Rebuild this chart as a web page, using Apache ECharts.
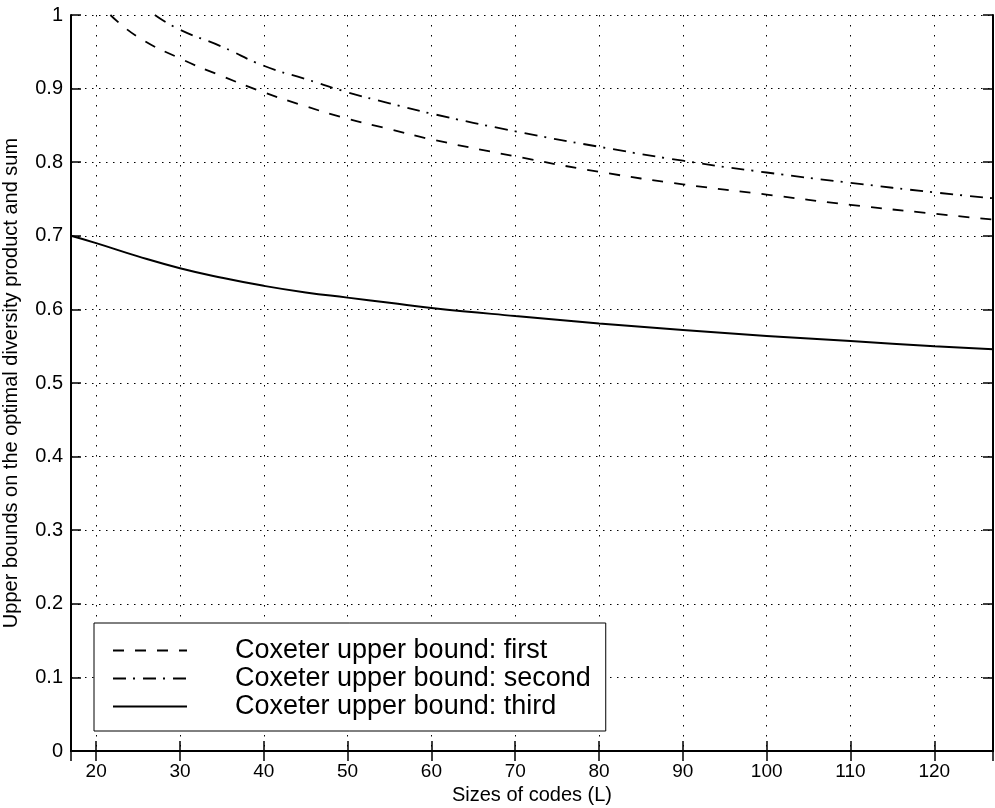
<!DOCTYPE html>
<html>
<head>
<meta charset="utf-8">
<script src="https://cdn.jsdelivr.net/npm/echarts@6/dist/echarts.min.js"></script>
<style>
  html, body { margin: 0; padding: 0; background: #fff; }
  #chart { width: 995px; height: 808px; }
</style>
</head>
<body>
<div id="chart"></div>
<script>
// values
const sizesFirst = [21.7, 25, 30, 35, 40, 45, 50, 55, 60, 70, 80, 90, 100, 110, 120, 127]
const boundFirst = [1.0, 0.970, 0.941, 0.917, 0.895, 0.876, 0.859, 0.845, 0.831, 0.808, 0.787, 0.770, 0.756, 0.742, 0.730, 0.722]

const sizesSecond = [27, 30, 35, 40, 45, 50, 55, 60, 70, 80, 90, 100, 110, 120, 127]
const boundSecond = [1.0, 0.980, 0.957, 0.931, 0.913, 0.895, 0.880, 0.866, 0.842, 0.821, 0.802, 0.786, 0.772, 0.759, 0.751]

const sizesThird = [17, 20, 25, 30, 35, 40, 45, 50, 55, 60, 70, 80, 90, 100, 110, 120, 127]
const boundThird = [0.700, 0.690, 0.672, 0.656, 0.643, 0.632, 0.623, 0.616, 0.609, 0.602, 0.591, 0.581, 0.572, 0.564, 0.557, 0.550, 0.546]

const seriesNames = ['Coxeter upper bound: first', 'Coxeter upper bound: second', 'Coxeter upper bound: third']

const pairs = (xs, ys) => xs.map((x, i) => [x, ys[i]])

const font = 'Liberation Sans, Arial, Helvetica, sans-serif'

const xTickFmt = v => (v % 10 === 0 ? String(v) : '')

let chart = echarts.init(document.getElementById('chart'), null, {renderer: 'canvas'})

const baseX = {
  type: 'value',
  min: 17,
  max: 127,
  splitNumber: 11,
  axisLine: {lineStyle: {color: '#000', width: 2}},
  axisTick: {inside: true, length: 10, lineStyle: {color: '#000', width: 1.5}}
}
const baseY = {
  type: 'value',
  min: 0,
  max: 1,
  interval: 0.1,
  axisLine: {lineStyle: {color: '#000', width: 2}},
  axisTick: {inside: true, length: 10, lineStyle: {color: '#000', width: 1.5}}
}

chart.setOption({
  backgroundColor: '#fff',
  animation: false,
  grid: {left: 71, right: 2, top: 15, bottom: 57, containLabel: false, outerBoundsMode: 'none'},
  legend: {
    orient: 'vertical',
    left: 94,
    top: 623,
    width: 510,
    padding: [14, 15, 11, 18],
    itemWidth: 74,
    itemHeight: 14,
    itemGap: 1,
    borderColor: '#000',
    borderWidth: 1,
    borderRadius: 0,
    backgroundColor: '#fff',
    itemStyle: {opacity: 0},
    data: seriesNames,
    textStyle: {color: '#000', fontSize: 27, fontFamily: font, padding: [0, 0, 0, 43]}
  },
  xAxis: [
    {
      ...baseX,
      name: 'Sizes of codes (L)',
      nameLocation: 'middle',
      nameGap: 27,
      nameTextStyle: {color: '#000', fontSize: 20, fontFamily: font},
      axisLabel: {color: '#000', fontSize: 19, fontFamily: font, margin: 11,
        formatter: xTickFmt, showMinLabel: false, showMaxLabel: false},
      splitLine: {show: true, lineStyle: {color: '#000', width: 1, type: [1.5, 8.5]}}
    },
    {
      ...baseX,
      position: 'top',
      axisLabel: {show: false},
      splitLine: {show: false}
    }
  ],
  yAxis: [
    {
      ...baseY,
      name: 'Upper bounds on the optimal diversity product and sum',
      nameLocation: 'middle',
      nameGap: 50,
      nameTextStyle: {color: '#000', fontSize: 20, fontFamily: font},
      axisLabel: {color: '#000', fontSize: 20, fontFamily: font, margin: 8,
        formatter: v => String(Math.round(v * 10) / 10)},
      splitLine: {show: true, lineStyle: {color: '#000', width: 1, type: [1.5, 5.5]}}
    },
    {
      ...baseY,
      position: 'right',
      axisLabel: {show: false},
      splitLine: {show: false}
    }
  ],
  series: [
    {
      name: seriesNames[0],
      type: 'line',
      data: pairs(sizesFirst, boundFirst),
      smooth: 0.5,
      symbol: 'none',
      lineStyle: {color: '#000', width: 1.8, type: [11, 11]},
      itemStyle: {color: '#000'}
    },
    {
      name: seriesNames[1],
      type: 'line',
      data: pairs(sizesSecond, boundSecond),
      smooth: 0.5,
      symbol: 'none',
      lineStyle: {color: '#000', width: 1.8, type: [13, 7, 2, 8]},
      itemStyle: {color: '#000'}
    },
    {
      name: seriesNames[2],
      type: 'line',
      data: pairs(sizesThird, boundThird),
      smooth: 0.5,
      symbol: 'none',
      lineStyle: {color: '#000', width: 2},
      itemStyle: {color: '#000'}
    }
  ]
})
</script>
</body>
</html>
